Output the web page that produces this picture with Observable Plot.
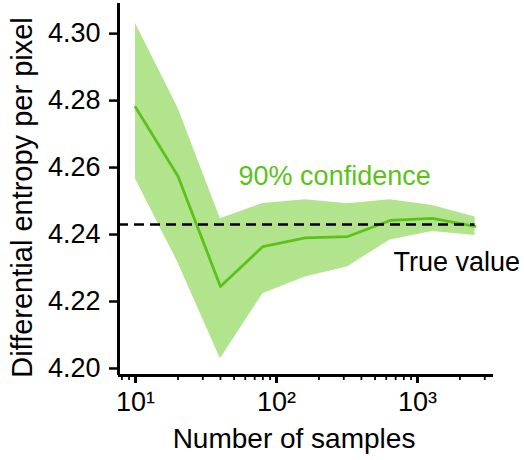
<!DOCTYPE html>
<html>
<head>
<meta charset="utf-8">
<script src="https://cdn.jsdelivr.net/npm/d3@7"></script>
<script src="https://cdn.jsdelivr.net/npm/@observablehq/plot@0.6"></script>
<style>
  html, body { margin: 0; padding: 0; background: #fff; }
</style>
</head>
<body>
<div id="chart"></div>
<script>
// Estimated differential entropy vs. number of samples, with a 90% confidence band
const samples  = [10, 20, 40, 80, 160, 320, 640, 1280, 2560];
const estimate = [4.2780, 4.2574, 4.2245, 4.2364, 4.2390, 4.2394, 4.2442, 4.2448, 4.2424];
const lower    = [4.2566, 4.2316, 4.2029, 4.2223, 4.2273, 4.2304, 4.2384, 4.2409, 4.2397];
const upper    = [4.3030, 4.2778, 4.2447, 4.2493, 4.2504, 4.2492, 4.2504, 4.2487, 4.2452];
const trueValue = 4.2430;

const xTicks = [10, 100, 1000];
const xTickLabels = ["10\u00b9", "10\u00b2", "10\u00b3"];
const xMinorTicks = [8, 9, 20, 30, 40, 50, 60, 70, 80, 90,
                     200, 300, 400, 500, 600, 700, 800, 900, 2000, 3000];
const yTicks = [4.20, 4.22, 4.24, 4.26, 4.28, 4.30];
const yTickLabels = ["4.20", "4.22", "4.24", "4.26", "4.28", "4.30"];

const xDomain = [7.57, 3460];
const yDomain = [4.1979, 4.309];

const rows = samples.map((n, i) => ({n, est: estimate[i], lo: lower[i], hi: upper[i]}));

const font = "'Liberation Sans', Arimo, Arial, Helvetica, sans-serif";
const bandColor = "#b1e48c";
const lineColor = "#5cc21a";
const fs = 27;

const chart = Plot.plot({
  width: 524,
  height: 460,
  marginLeft: 118,
  marginRight: 31,
  marginTop: 3,
  marginBottom: 85,
  style: {fontFamily: font, fontSize: fs + "px", background: "white", color: "black"},
  x: {type: "log", domain: xDomain},
  y: {domain: yDomain},
  marks: [
    // confidence band and estimate
    Plot.areaY(rows, {x: "n", y1: "lo", y2: "hi", fill: bandColor}),
    Plot.line(rows, {x: "n", y: "est", stroke: lineColor, strokeWidth: 2.8}),
    // reference value
    Plot.ruleY([trueValue], {
      x1: () => xDomain[0], x2: () => samples[samples.length - 1],
      stroke: "black", strokeWidth: 2.5, strokeDasharray: "10,6"
    }),
    // axis lines
    Plot.ruleX([xDomain[0]], {y1: () => yDomain[0], y2: () => yDomain[1], stroke: "black", strokeWidth: 3}),
    Plot.ruleY([yDomain[0]], {x1: () => xDomain[0], x2: () => xDomain[1], stroke: "black", strokeWidth: 3}),
    // axes
    Plot.axisY({ticks: yTicks, tickFormat: (d) => yTickLabels[yTicks.indexOf(d)], tickSize: 9, tickPadding: 9,
                strokeWidth: 2.5, fontSize: fs, label: null}),
    Plot.axisX({ticks: xMinorTicks, tickSize: 5, strokeWidth: 1.8, text: null, label: null}),
    Plot.axisX({ticks: xTicks, tickFormat: (d) => xTickLabels[xTicks.indexOf(d)], tickSize: 8, tickPadding: 8,
                strokeWidth: 3, fontSize: fs, label: null}),
    // axis titles
    Plot.text(["Differential entropy per pixel"], {
      frameAnchor: "left", rotate: -90, dx: -96, dy: 8, fontSize: 29,
      textAnchor: "middle", lineAnchor: "middle", fill: "black"
    }),
    Plot.text(["Number of samples"], {
      frameAnchor: "bottom", dy: 64, dx: -12, fontSize: 28,
      textAnchor: "middle", lineAnchor: "middle", fill: "black"
    }),
    // annotations
    Plot.text(["90% confidence"], {
      x: () => 53.8, y: () => 4.2573, textAnchor: "start", lineAnchor: "middle", fill: lineColor, fontSize: fs
    }),
    Plot.text(["True value"], {
      x: () => 676, y: () => 4.2316, textAnchor: "start", lineAnchor: "middle", fill: "black", fontSize: fs
    })
  ]
});

document.getElementById("chart").appendChild(chart);
</script>
</body>
</html>
